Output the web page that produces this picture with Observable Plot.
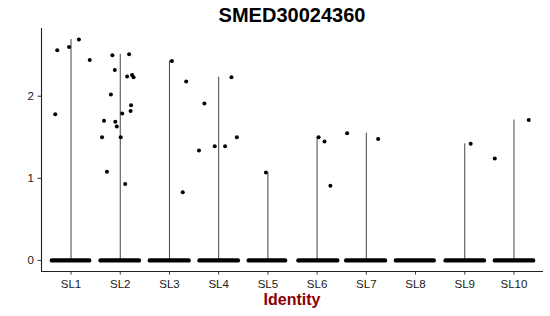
<!DOCTYPE html>
<html>
<head>
<meta charset="utf-8">
<script src="https://cdn.jsdelivr.net/npm/d3@7"></script>
<script src="https://cdn.jsdelivr.net/npm/@observablehq/plot@0.6"></script>
<style>
  body { margin: 0; background: #fff; font-family: "Liberation Sans", Arial, Helvetica, sans-serif; }
  #wrap { position: relative; width: 550px; height: 316px; overflow: hidden; }
  #title { position: absolute; left: 41px; width: 502px; top: 5px; text-align: center;
           font-weight: bold; font-size: 20px; line-height: 20px; color: #000; }
  #chart { position: absolute; left: 0; top: 28px; }
  #xlabel { position: absolute; left: 41px; width: 502px; top: 291.5px; text-align: center;
            font-weight: bold; font-size: 16px; line-height: 16px; color: #8b0000; }
</style>
</head>
<body>
<div id="wrap">
  <div id="title">SMED30024360</div>
  <div id="chart"></div>
  <div id="xlabel">Identity</div>
</div>
<script>
// Identities (categories)
const groups = ["SL1", "SL2", "SL3", "SL4", "SL5", "SL6", "SL7", "SL8", "SL9", "SL10"];
// Violin (max expression per identity; distribution collapses to a line)
const violinMax = [2.69, 2.51, 2.43, 2.23, 1.07, 1.50, 1.55, 0, 1.42, 1.71];
// Horizontal extent of the jittered zero-expression cells (offset from category centre)
const zeroLo = [-0.39, -0.40, -0.40, -0.39, -0.39, -0.38, -0.41, -0.40, -0.39, -0.39];
const zeroHi = [0.37, 0.38, 0.39, 0.39, 0.35, 0.41, 0.38, 0.37, 0.39, 0.39];
// Non-zero cells: identity, jitter offset, expression value
const cellGroup = [
  "SL1","SL1","SL1","SL1","SL1",
  "SL2","SL2","SL2","SL2","SL2","SL2","SL2","SL2","SL2","SL2","SL2","SL2","SL2","SL2","SL2","SL2","SL2",
  "SL3","SL3","SL3",
  "SL4","SL4","SL4","SL4","SL4","SL4",
  "SL5",
  "SL6","SL6","SL6",
  "SL7","SL7",
  "SL9",
  "SL10","SL10"
];
const cellJitter = [
  -0.28, -0.04, 0.16, 0.38, -0.32,
  -0.16, 0.18, -0.11, 0.14, 0.24, 0.27, -0.19, 0.22, 0.21, 0.04, -0.33, -0.10, -0.07, -0.37, 0.01, -0.27, 0.10,
  0.05, 0.34, 0.27,
  -0.29, 0.26, 0.37, -0.08, 0.13, -0.40,
  -0.04,
  0.03, 0.15, 0.27,
  -0.39, 0.24,
  0.12,
  -0.39, 0.30
];
const cellValue = [
  2.56, 2.60, 2.69, 2.44, 1.78,
  2.50, 2.51, 2.32, 2.24, 2.26, 2.23, 2.02, 1.89, 1.82, 1.79, 1.70, 1.69, 1.63, 1.50, 1.50, 1.08, 0.93,
  2.43, 2.18, 0.83,
  1.91, 2.23, 1.50, 1.39, 1.39, 1.34,
  1.07,
  1.50, 1.45, 0.91,
  1.55, 1.48,
  1.42,
  1.24, 1.71
];
const yTicks = [0, 1, 2];
const xDomain = [0.4, groups.length + 0.6];
const yDomain = [-0.135, 2.825];

const pos = g => groups.indexOf(g) + 1;
const violins = groups.map((g, i) => ({x: i + 1, max: violinMax[i]})).filter(d => d.max > 0);
const zeros = groups.map((g, i) => ({x1: i + 1 + zeroLo[i], x2: i + 1 + zeroHi[i]}));
const cells = cellGroup.map((g, i) => ({x: pos(g) + cellJitter[i], y: cellValue[i]}));

const chart = Plot.plot({
  width: 550,
  height: 262,
  marginLeft: 41,
  marginRight: 7,
  marginTop: 0,
  marginBottom: 19,
  style: {fontFamily: '"Liberation Sans", Arial, Helvetica, sans-serif', fontSize: "11.5px", color: "#1a1a1a", background: "transparent", overflow: "visible"},
  x: {type: "linear", domain: xDomain},
  y: {type: "linear", domain: yDomain},
  marks: [
    Plot.axisX(groups.map((g, i) => i + 1), {tickFormat: v => groups[v - 1], tickSize: 3.5, tickPadding: 5, label: null, stroke: "#333"}),
    Plot.axisY(yTicks, {tickFormat: d => String(d), tickSize: 3.5, tickPadding: 4, label: null, stroke: "#333"}),
    Plot.ruleY([yDomain[0]], {stroke: "#222", strokeWidth: 1.1}),
    Plot.ruleX([xDomain[0]], {stroke: "#222", strokeWidth: 1.1}),
    Plot.ruleX(violins, {x: "x", y1: 0, y2: "max", stroke: "#444", strokeWidth: 1}),
    Plot.link(zeros, {x1: "x1", x2: "x2", y1: 0, y2: 0, stroke: "#000", strokeWidth: 4.4, strokeLinecap: "round"}),
    Plot.dot(cells, {x: "x", y: "y", r: 2, fill: "#000", stroke: "none"})
  ]
});
document.getElementById("chart").appendChild(chart);
</script>
</body>
</html>
